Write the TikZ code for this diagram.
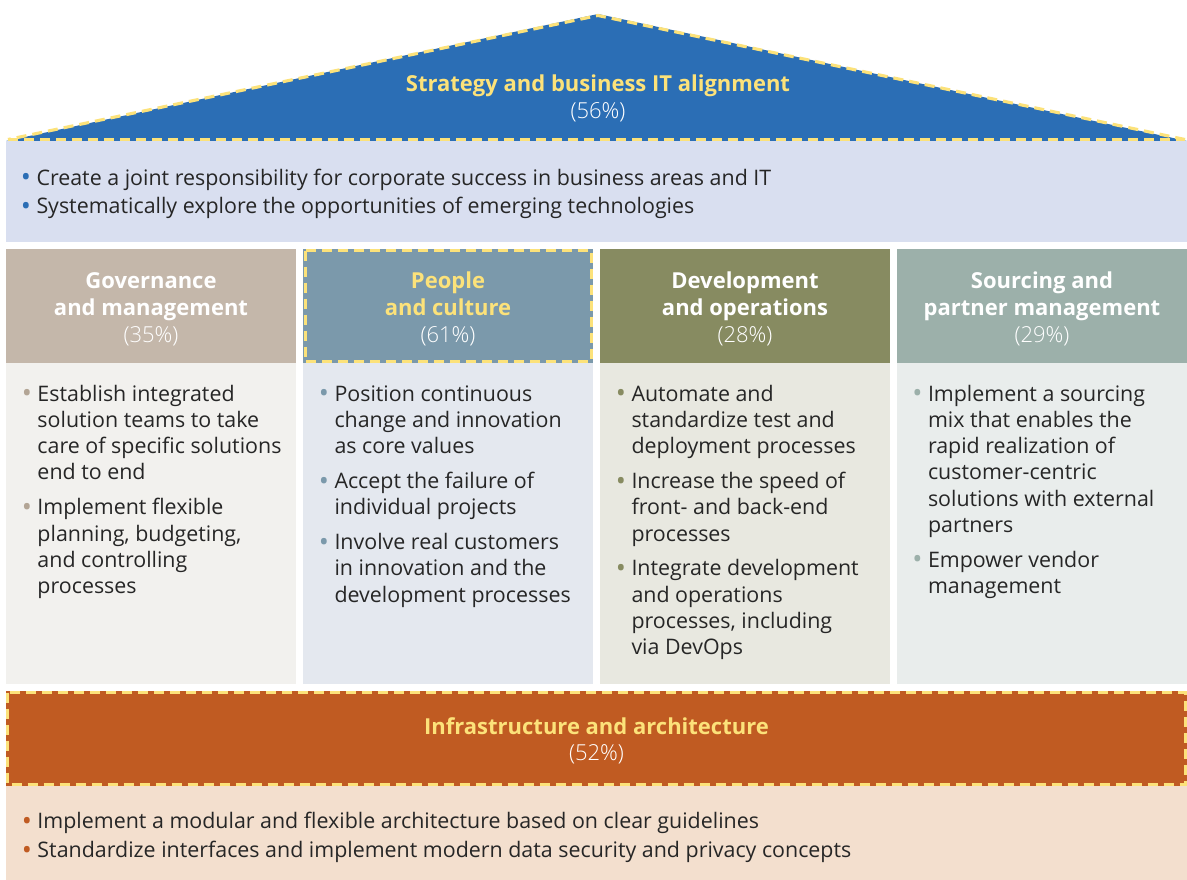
\documentclass[tikz,border=0pt]{standalone}
\usepackage{fontspec}
\setmainfont{Open Sans}
\IfFontExistsTF{Open Sans Light}{\newfontfamily\pctfam{Open Sans Light}}{\IfFontExistsTF{Lato Light}{\newfontfamily\pctfam{Lato Light}}{\newcommand\pctfam{\relax}}}
\newcommand\pctfont{\pctfam\mdseries}
\definecolor{roofblue}{HTML}{2B6EB5}
\definecolor{topbg}{HTML}{D9DFF0}
\definecolor{yel}{HTML}{FCE27A}
\definecolor{txt}{HTML}{262626}
\definecolor{gA}{HTML}{C4B7AA}\definecolor{bA}{HTML}{F2F1EE}\definecolor{dA}{HTML}{B3A595}
\definecolor{gB}{HTML}{7B99AB}\definecolor{bB}{HTML}{E4E8EF}
\definecolor{gC}{HTML}{878B61}\definecolor{bC}{HTML}{E8E8E0}
\definecolor{gD}{HTML}{9CB0AA}\definecolor{bD}{HTML}{E9EDEC}
\definecolor{infra}{HTML}{C05B22}\definecolor{infrabg}{HTML}{F3DFCE}
\newcommand\bul[1]{\llap{\textcolor{#1}{\raisebox{-1.6pt}{\fontsize{27}{27}\selectfont •}}\hspace{5.4pt}}}
\tikzset{
  bodytxt/.style={anchor=north west, inner sep=0pt, outer sep=0pt, align=left, text=txt, font=\fontsize{21.4}{26.3}\selectfont},
  widetxt/.style={bodytxt, font=\fontsize{21.4}{28.8}\selectfont},
  headtxt/.style={anchor=north, inner sep=0pt, outer sep=0pt, align=center, font=\bfseries\fontsize{22}{26.7}\selectfont},
  ydash/.style={draw=yel, line width=3.1pt, dash pattern=on 10pt off 6pt},
}
\begin{document}
\begin{tikzpicture}[x=1pt,y=-1pt]
\useasboundingbox (0,0) rectangle (1187,880);
\fill[white] (0,0) rectangle (1187,880);
% roof
\fill[roofblue] (6,141) -- (598,14) -- (1187,141) -- cycle;
\draw[ydash] (1185,139.5) -- (598,15.5) -- (8,139.5);
\draw[ydash] (8,139.5) -- (1185,139.5);
\node[headtxt, text=yel] (roof) at (598,73.3) {\strut Strategy and business IT alignment\\{\pctfont\color{white}(56\%)}};
% top box
\fill[topbg] (6,141) rectangle (1187,242);
\node[widetxt] (topitems) at (36.5,165) {\strut\bul{roofblue}Create a joint responsibility for corporate success in business areas and IT\\
\bul{roofblue}Systematically explore the opportunities of emerging technologies};
% column headers
\fill[gA] (6,249) rectangle (296,363);
\fill[gB] (303,249) rectangle (593,363);
\fill[gC] (600,249) rectangle (890,363);
\fill[gD] (897,249) rectangle (1187,363);
\draw[ydash] (305.3,250.5) rectangle (591.7,361.5);
\node[headtxt, text=white] (hA) at (151,270.3) {\strut Governance\\and management\\{\pctfont (35\%)}};
\node[headtxt, text=yel] (hB) at (448,270.3) {\strut People\\and culture\\{\pctfont\color{white}(61\%)}};
\node[headtxt, text=white] (hC) at (745,270.3) {\strut Development\\and operations\\{\pctfont (28\%)}};
\node[headtxt, text=white] (hD) at (1042,270.3) {\strut Sourcing and\\partner management\\{\pctfont (29\%)}};
% column bodies
\fill[bA] (6,363) rectangle (296,684);
\fill[bB] (303,363) rectangle (593,684);
\fill[bC] (600,363) rectangle (890,684);
\fill[bD] (897,363) rectangle (1187,684);
\node[bodytxt] (tA) at (37.5,382.6) {\strut\bul{dA}Establish integrated\\solution teams to take\\care of specific solutions\\end to end\\[8.5pt]
\bul{dA}Implement flexible\\planning, budgeting,\\and controlling\\processes};
\node[bodytxt] (tB) at (334.5,382.6) {\strut\bul{gB}Position continuous\\change and innovation\\as core values\\[8.5pt]
\bul{gB}Accept the failure of\\individual projects\\[8.5pt]
\bul{gB}Involve real customers\\in innovation and the\\development processes};
\node[bodytxt] (tC) at (631.5,382.6) {\strut\bul{gC}Automate and\\standardize test and\\deployment processes\\[8.5pt]
\bul{gC}Increase the speed of\\front- and back-end\\processes\\[8.5pt]
\bul{gC}Integrate development\\and operations\\processes, including\\via DevOps};
\node[bodytxt] (tD) at (928,382.6) {\strut\bul{gD}Implement a sourcing\\mix that enables the\\rapid realization of\\customer-centric\\solutions with external\\partners\\[8.5pt]
\bul{gD}Empower vendor\\management};
% infrastructure
\fill[infra] (6,691) rectangle (1187,786);
\draw[ydash] (7.5,692.5) rectangle (1185.5,784.5);
\node[headtxt, text=yel] (infrahead) at (596.5,715.4) {\strut Infrastructure and architecture\\{\pctfont\color{white}(52\%)}};
\fill[infrabg] (6,786) rectangle (1187,880);
\node[widetxt] (infraitems) at (37.5,808.8) {\strut\bul{infra}Implement a modular and flexible architecture based on clear guidelines\\
\bul{infra}Standardize interfaces and implement modern data security and privacy concepts};
\end{tikzpicture}
\end{document}
